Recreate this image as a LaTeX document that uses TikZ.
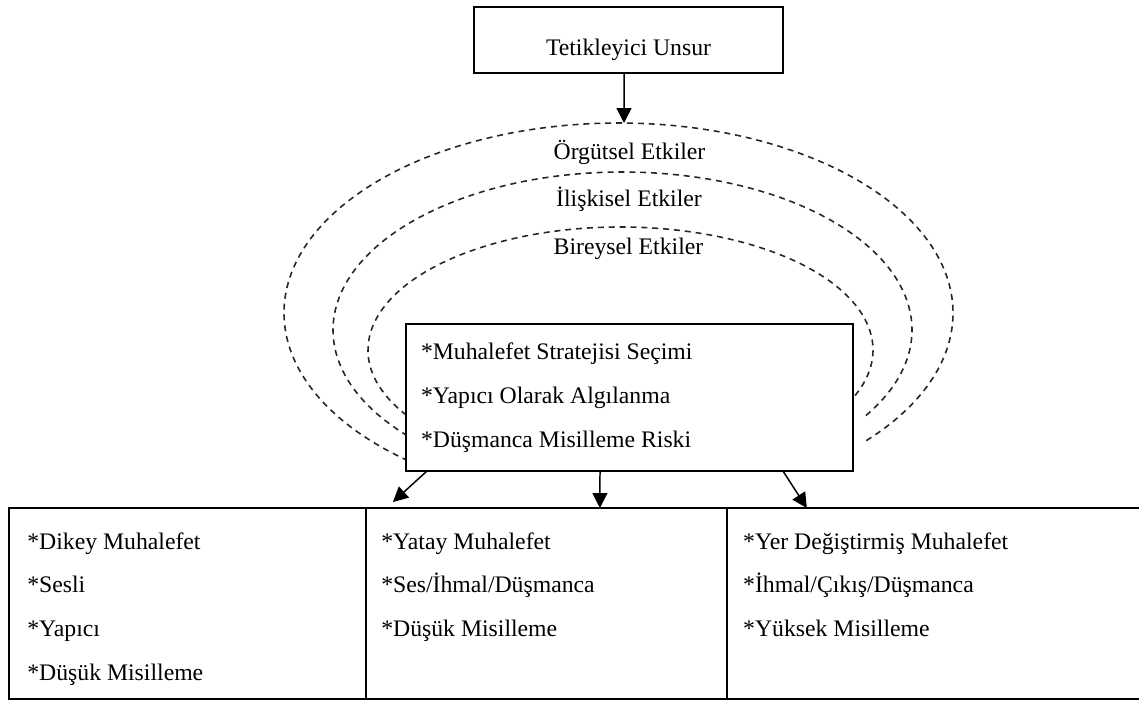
\documentclass[tikz,border=0pt]{standalone}
\usepackage{fontspec}
\setmainfont{Liberation Serif}
\usetikzlibrary{arrows.meta, positioning}
\tikzset{
    % Base Box Style
    frameBox/.style={
        rectangle,
        draw=black,
        fill=white,
        line width=1.1pt,
        inner sep=0pt,
        outer sep=0pt,
        font=\fontsize{13.5}{25}\selectfont
    },
    % Specific Box Styles
    itemBox/.style={frameBox, align=flush left, text width=8.34cm, inner xsep=0.3cm, minimum width=8.94cm, minimum height=2.94cm},
    outcomeBox/.style={frameBox, minimum height=3.82cm},
    % Rings, Labels & Arrows
    ring/.style={dash pattern=on 3.4pt off 2.8pt, line width=0.9pt, draw=black!85},
    ringLabel/.style={font=\fontsize{13.5}{16}\selectfont, inner sep=0pt, text height=8.9pt, text depth=0pt},
    listText/.style={inner sep=0pt, align=left, font=\fontsize{13.5}{25}\selectfont},
    arrow/.style={-{Triangle[length=8.5pt, width=8.5pt]}, line width=0.85pt}
}

\begin{document}
\begin{tikzpicture}[x=0.02cm, y=0.02cm]

    \useasboundingbox (0,0) rectangle (1139,-700);
    \clip (0,0) rectangle (1139,-700);

    % --- TRIGGER ---
    \node (trigger) [frameBox, minimum width=6.18cm, minimum height=1.32cm, text height=21pt, text depth=3.4pt] at (628.5,-40) {Tetikleyici Unsur};

    % --- RINGS OF INFLUENCE ---
    \coordinate (orgCentre) at (618.5,-313);
    \coordinate (relCentre) at (622.5,-330);
    \coordinate (indCentre) at (620.5,-350);
    \coordinate (orgTop) at (624,-123);

    \draw [ring] (orgCentre) ++(231:334.5 and 190) arc[start angle=231, end angle=-43, x radius=334.5, y radius=190];
    \draw [ring] (relCentre) ++(222:289.5 and 158) arc[start angle=222, end angle=-34, x radius=289.5, y radius=158];
    \draw [ring] (indCentre) ++(212:252.5 and 123) arc[start angle=212, end angle=-23, x radius=252.5, y radius=123];

    \node (orgLabel) [ringLabel] at (629.5,-152) {Örgütsel Etkiler};
    \node (relLabel) [ringLabel] at (629,-199) {İlişkisel Etkiler};
    \node (indLabel) [ringLabel] at (628.5,-247) {Bireysel Etkiler};

    % --- STRATEGY CHOICE ---
    \node (strategy) [itemBox] at (629.5,-397.5) {
        {*}Muhalefet Stratejisi Seçimi \\
        {*}Yapıcı Olarak Algılanma \\
        {*}Düşmanca Misilleme Riski
    };

    % --- OUTCOMES (three boxes side by side) ---
    \node (vertBox) [outcomeBox, minimum width=7.14cm, anchor=north west] at (9,-508) {};
    \node (horizBox) [outcomeBox, minimum width=7.22cm, right=0pt of vertBox] {};
    \node (dispBox) [outcomeBox, minimum width=8.8cm, right=0pt of horizBox] {};

    \node (vertText) [listText, below right=0.48cm and 0.36cm of vertBox.north west] {
        {*}Dikey Muhalefet \\
        {*}Sesli \\
        {*}Yapıcı \\
        {*}Düşük Misilleme
    };
    \node (horizText) [listText, below right=0.48cm and 0.3cm of horizBox.north west] {
        {*}Yatay Muhalefet \\
        {*}Ses/İhmal/Düşmanca \\
        {*}Düşük Misilleme
    };
    \node (dispText) [listText, below right=0.48cm and 0.32cm of dispBox.north west] {
        {*}Yer Değiştirmiş Muhalefet \\
        {*}İhmal/Çıkış/Düşmanca \\
        {*}Yüksek Misilleme
    };

    % --- Arrows ---
    \draw [arrow] ([xshift=-0.09cm]trigger.south) -- (orgTop);
    \draw [arrow] ([xshift=0.42cm]strategy.south west) -- ([xshift=0.54cm, yshift=0.12cm]horizBox.north west);
    \draw [arrow] ([xshift=-0.59cm]strategy.south) -- ([xshift=1.07cm]horizBox.north);
    \draw [arrow] ([xshift=-1.4cm]strategy.south east) -- ([xshift=1.6cm]dispBox.north west);

\end{tikzpicture}
\end{document}
